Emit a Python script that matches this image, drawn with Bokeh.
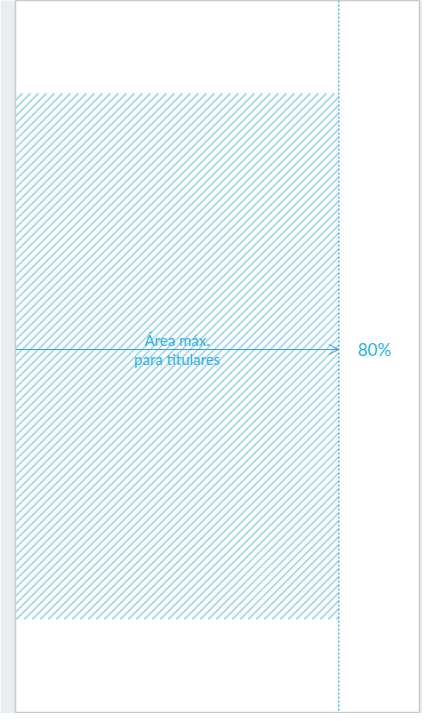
import numpy as np
from bokeh.plotting import figure
from bokeh.models import Range1d, Span, Arrow, OpenHead, ColumnDataSource
from bokeh.core.properties import value
from bokeh.embed import file_html
from bokeh.resources import INLINE

# ---- data (both axes in % of the page width) ----
max_area_pct = 80                      # maximum area for headlines
area_x = [0, max_area_pct]
area_y = [23.3, 153.5]
arrow_y = 90.1
page_h = 176.5
area_label = "Área máx.\npara titulares"
pct_label = f"{max_area_pct}%"

BG = "#e9edf0"
TEXT = "#2bb3e8"
ARROW = "#3a9fd8"
DOT = "#3fb3e6"
HATCH = "#a2d5ef"
HATCH_STEP = 1.98   # hatch spacing (same units)

p = figure(width=422, height=713, output_backend="svg", toolbar_location=None,
           x_range=Range1d(0, 100), y_range=Range1d(0, page_h),
           min_border_left=15, min_border_right=3, min_border_top=0, min_border_bottom=0,
           background_fill_color="white", border_fill_color=BG,
           outline_line_color="#c8ccd0", outline_line_width=1.5)
p.axis.visible = False
p.grid.visible = False

# 45-degree "/" hatch of the maximum area, clipped to its rectangle
x0, x1 = area_x
y0, y1 = area_y
cs = np.arange(y0 - x1 + 0.6, y1 - x0, HATCH_STEP)
xs_a = np.maximum(x0, y0 - cs)
xs_b = np.minimum(x1, y1 - cs)
keep = xs_b > xs_a
hatch = ColumnDataSource(dict(x0=xs_a[keep], y0=xs_a[keep] + cs[keep],
                              x1=xs_b[keep], y1=xs_b[keep] + cs[keep]))
p.segment(x0="x0", y0="y0", x1="x1", y1="y1", source=hatch,
          line_color=HATCH, line_width=1.7)

p.add_layout(Span(location=max_area_pct, dimension="height", line_color=DOT,
                  line_width=1.5, line_dash="2 2"))

p.add_layout(Arrow(x_start=area_x[0], y_start=arrow_y, x_end=area_x[1], y_end=arrow_y,
                   line_color=ARROW, line_width=1,
                   end=OpenHead(size=10, line_color=ARROW, line_width=1)))

p.text(x=[sum(area_x) / 2], y=[arrow_y], text=[area_label],
       text_align="center", text_baseline="middle", text_line_height=1.1,
       text_font=value("Lato"), text_font_size="15px", text_color=TEXT)

p.text(x=[max_area_pct], y=[arrow_y], text=[pct_label], x_offset=19,
       text_align="left", text_baseline="middle",
       text_font=value("Lato"), text_font_size="17px", text_color=TEXT)

open("out.html", "w").write(file_html(p, INLINE))
